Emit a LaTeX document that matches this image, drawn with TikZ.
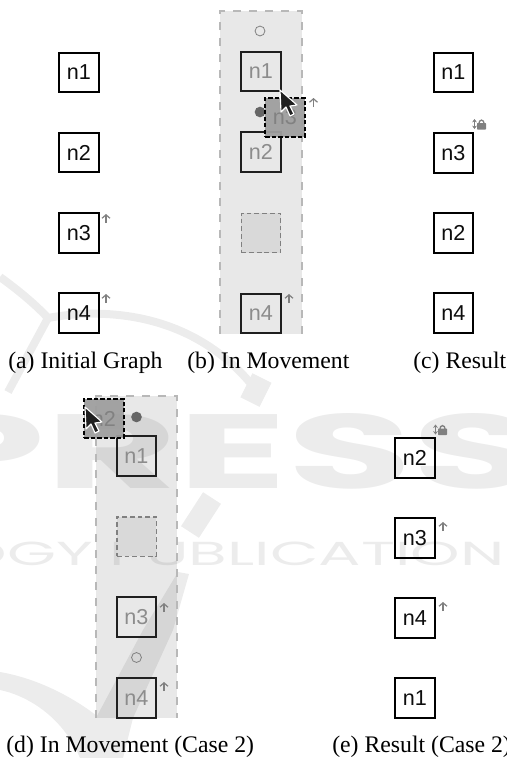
\documentclass[tikz,border=0pt]{standalone}
\usepackage{fontspec}
\setmainfont{Liberation Serif}
\newfontfamily\nodefont{Liberation Sans}
\newfontfamily\wmfont{Poppins}[Scale=1]
\usetikzlibrary{arrows.meta}
\definecolor{wm}{HTML}{ECECEC}
\tikzset{
  x=0.75pt,y=-0.75pt,
  nbox/.style={draw=black,line width=1.35pt,minimum size=29.6pt,inner sep=0pt,font=\nodefont\fontsize{16.2pt}{17pt}\selectfont,text=black!95},
  ghost/.style={nbox,text=black!45,draw=black!88},
  hole/.style={draw=black!50,fill=black!15,dash pattern=on 3.6pt off 2.2pt,line width=1.1pt,minimum size=29.6pt,inner sep=0pt},
  dragbox/.style={nbox,fill=black!38,fill opacity=.95,text=black!50,dash pattern=on 3.2pt off 1.7pt},
  captext/.style={anchor=base west,inner sep=0pt,font=\fontsize{17.8pt}{18pt}\selectfont},
  panel/.style={fill=black,fill opacity=.09,draw=none},
  panelline/.style={draw=black!28,line width=1.1pt,dash pattern=on 6pt off 6pt},
  mv/.style={draw=black!50,line width=.9pt,-{Straight Barb[length=2.6pt,width=6pt,line width=.9pt]}},
  mark0/.style={circle,draw=black!50,line width=.6pt,minimum size=7.4pt,inner sep=0pt},
  mark1/.style={circle,fill=black!60,minimum size=8pt,inner sep=0pt},
  wmtext/.style={text=wm,inner sep=0pt,anchor=base west},
  wmline/.style={draw=wm,line cap=butt},
  cursor/.style={fill=black!88,draw=white,line width=.85pt,line join=round}
}
\newcommand{\upmark}[2]{\draw[mv] (#1,#2+9) -- (#1,#2);}
\newcommand{\lockmark}[2]{%
  \draw[draw=black!50,line width=.9pt,{Stealth[length=2.5pt,width=3.6pt]}-{Stealth[length=2.5pt,width=3.6pt]}] (#1,#2) -- (#1,#2+10);
  \fill[black!50,rounded corners=.5pt] (#1+2.5,#2+4) rectangle (#1+11.5,#2+10.5);
  \draw[black!50,line width=1pt] (#1+4.4,#2+4.5) arc[start angle=180,end angle=360,x radius=2.6,y radius=3.4];}
\newcommand{\cursorat}[2]{\draw[cursor,shift={(#1,#2)}] (0,0) -- (1,22) -- (6,17) -- (10,26) -- (14,24) -- (10,16) -- (17,15) -- cycle;}
\begin{document}
\begin{tikzpicture}
\useasboundingbox (0,0) rectangle (507,758);
% faint background mark
\begin{scope}
\clip (0,0) rectangle (507,758);
\node[wmtext,font=\wmfont\bfseries\fontsize{79pt}{80pt}\selectfont,xscale=1.93] (wmpress) at (-82,488) {PRESS};
\node[wmtext,font=\wmfont\fontsize{25pt}{26pt}\selectfont,xscale=1.89] (wmpub) at (-70,565) {LOGY PUBLICATIONS};
\draw[wmline,line width=6pt] (0,277) .. controls (18,290) and (35,304) .. (48,318);
\draw[wmline,line width=6pt] (48,318) -- (8,392);
\draw[wmline,line width=6pt] (48,318) .. controls (100,308) and (190,310) .. (252,385);
\draw[wmline,line width=16pt] (262,378) -- (250,402);
\draw[wmline,line width=16pt] (212,498) -- (190,532);
\fill[wm] (178,572) -- (189,574) -- (173,630) -- (133,718) -- (123,758) -- (80,758) .. controls (62,715) and (25,695) .. (0,690) -- (0,672) .. controls (35,678) and (70,695) .. (97,716) -- (143,630) -- cycle;
\end{scope}
% panels
\fill[panel] (220,11) rectangle (302,334);
\draw[panelline] (220,334) -- (220,11) -- (302,11) -- (302,334);
\fill[panel] (96,396) rectangle (177,718);
\draw[panelline] (96,718) -- (96,396) -- (177,396) -- (177,718);
% (a)
\node[nbox] (a1) at (79,72.5) {n1};
\node[nbox] (a2) at (79,152.5) {n2};
\node[nbox] (a3) at (79,233) {n3};
\node[nbox] (a4) at (79,313) {n4};
\upmark{106}{214}
\upmark{106}{294}
% (b)
\node[mark0] (bo) at (260,31) {};
\node[ghost] (b1) at (261,71.5) {n1};
\node[ghost] (b2) at (261,152) {n2};
\node[hole] (bh) at (261,233) {};
\node[ghost] (b4) at (261,313.5) {n4};
\upmark{289}{294}
\node[mark1] (bd) at (260,112) {};
\node[dragbox] (b3) at (285,117.5) {n3};
\upmark{313.5}{98}
\cursorat{280}{90}
% (c)
\node[nbox] (c1) at (453.5,72.5) {n1};
\node[nbox] (c3) at (453.5,153) {n3};
\node[nbox] (c2) at (453.5,233) {n2};
\node[nbox] (c4) at (453.5,313) {n4};
\lockmark{474.5}{119}
% (d)
\node[ghost] (d1) at (136.5,456) {n1};
\node[hole] (dh) at (136.5,536.5) {};
\node[ghost] (d3) at (136.5,617) {n3};
\node[mark0] (do) at (136.5,657.5) {};
\node[ghost] (d4) at (136.5,698) {n4};
\upmark{164}{603}
\upmark{164}{682}
\node[mark1] (dd) at (136.5,417) {};
\node[dragbox] (d2) at (104,418.5) {n2};
\cursorat{85}{407}
% (e)
\node[nbox] (e2) at (415,458) {n2};
\node[nbox] (e3) at (415,538) {n3};
\node[nbox] (e4) at (415,618) {n4};
\node[nbox] (e1) at (415,698) {n1};
\lockmark{435.5}{424.5}
\upmark{443}{522}
\upmark{443}{602}
% captions
\node[captext] (ca) at (8,368) {(a) Initial Graph};
\node[captext] (cb) at (187,368) {(b) In Movement};
\node[captext] (cc) at (413,368) {(c) Result};
\node[captext] (cd) at (6,752) {(d) In Movement (Case 2)};
\node[captext] (ce) at (332,752) {(e) Result (Case 2)};
\end{tikzpicture}
\end{document}
